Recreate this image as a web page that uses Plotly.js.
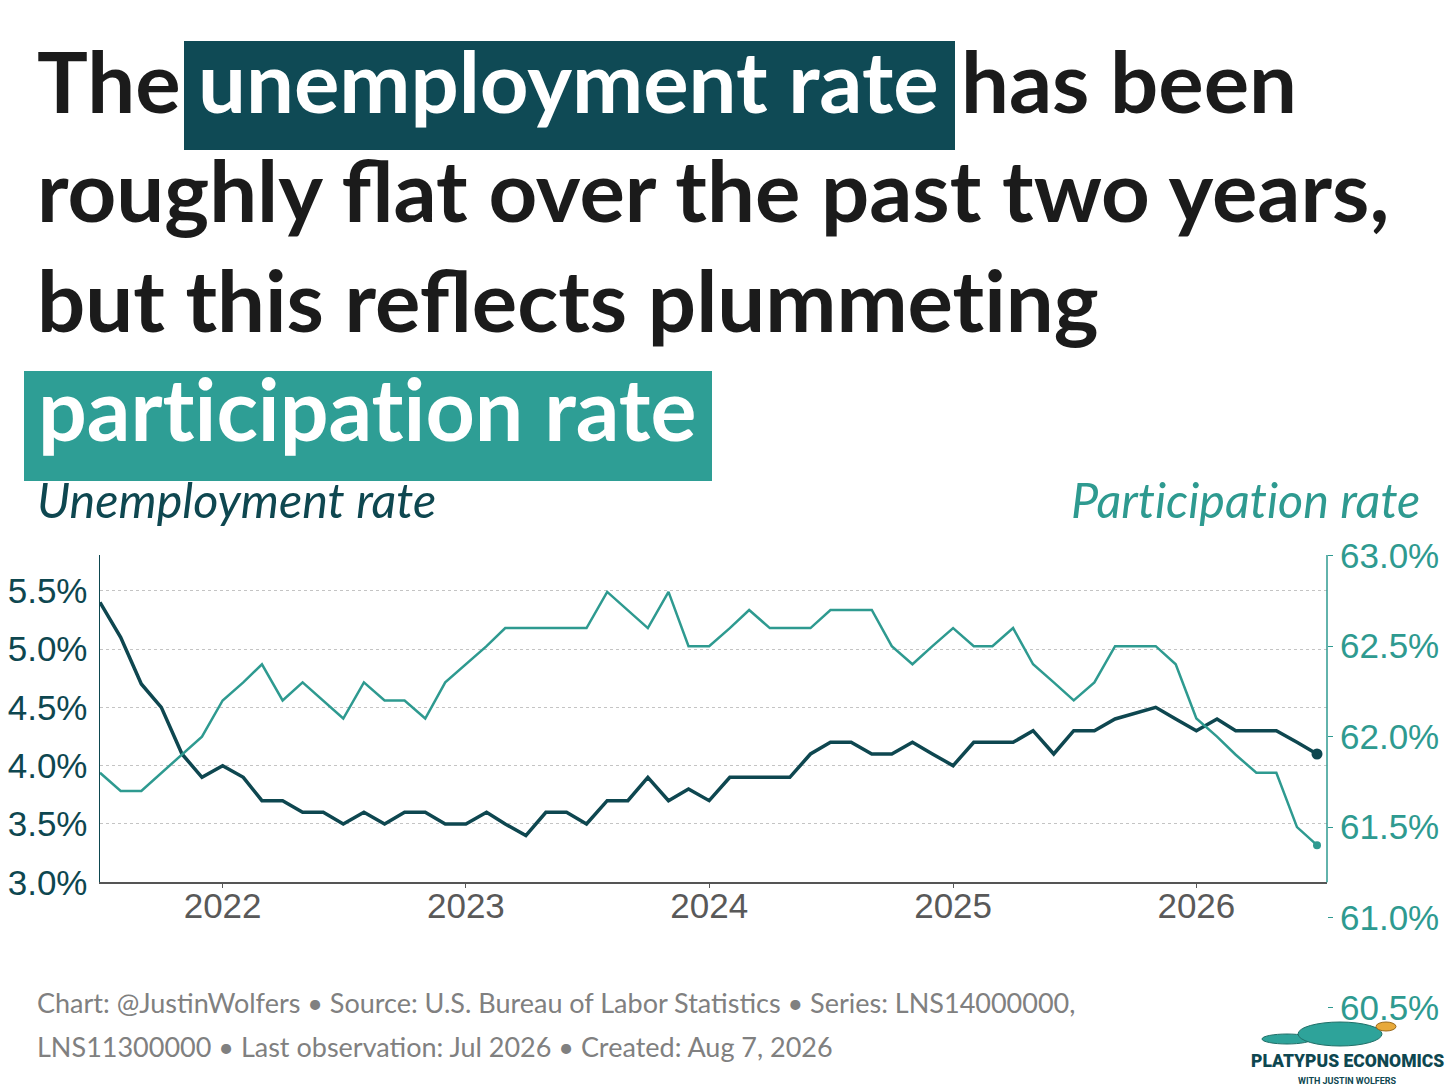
<!DOCTYPE html>
<html>
<head>
<meta charset="utf-8">
<script src="https://cdn.plot.ly/plotly-3.0.1.min.js"></script>
<style>
  html, body { margin: 0; padding: 0; overflow: hidden; background: #fff; }
</style>
</head>
<body>
<div id="chart"></div>
<script>
// monthly observations, Jul 2021 - Jul 2026 (Oct 2025 not published)
const months = [
  "2021-07", "2021-08", "2021-09", "2021-10", "2021-11", "2021-12",
  "2022-01", "2022-02", "2022-03", "2022-04", "2022-05", "2022-06",
  "2022-07", "2022-08", "2022-09", "2022-10", "2022-11", "2022-12",
  "2023-01", "2023-02", "2023-03", "2023-04", "2023-05", "2023-06",
  "2023-07", "2023-08", "2023-09", "2023-10", "2023-11", "2023-12",
  "2024-01", "2024-02", "2024-03", "2024-04", "2024-05", "2024-06",
  "2024-07", "2024-08", "2024-09", "2024-10", "2024-11", "2024-12",
  "2025-01", "2025-02", "2025-03", "2025-04", "2025-05", "2025-06",
  "2025-07", "2025-08", "2025-09", "2025-10", "2025-11", "2025-12",
  "2026-01", "2026-02", "2026-03", "2026-04", "2026-05", "2026-06",
  "2026-07",
];

// unemployment rate, % (LNS14000000)
const unemployment = [
  5.4, 5.1, 4.7, 4.5, 4.1, 3.9,
  4.0, 3.9, 3.7, 3.7, 3.6, 3.6, 3.5, 3.6, 3.5, 3.6, 3.6, 3.5,
  3.5, 3.6, 3.5, 3.4, 3.6, 3.6, 3.5, 3.7, 3.7, 3.9, 3.7, 3.8,
  3.7, 3.9, 3.9, 3.9, 3.9, 4.1, 4.2, 4.2, 4.1, 4.1, 4.2, 4.1,
  4.0, 4.2, 4.2, 4.2, 4.3, 4.1, 4.3, 4.3, 4.4, null, 4.5, 4.4,
  4.3, 4.4, 4.3, 4.3, 4.3, 4.2, 4.1,
];

// labor force participation rate, % (LNS11300000)
const participation = [
  61.8, 61.7, 61.7, 61.8, 61.9, 62.0,
  62.2, 62.3, 62.4, 62.2, 62.3, 62.2, 62.1, 62.3, 62.2, 62.2, 62.1, 62.3,
  62.4, 62.5, 62.6, 62.6, 62.6, 62.6, 62.6, 62.8, 62.7, 62.6, 62.8, 62.5,
  62.5, 62.6, 62.7, 62.6, 62.6, 62.6, 62.7, 62.7, 62.7, 62.5, 62.4, 62.5,
  62.6, 62.5, 62.5, 62.6, 62.4, 62.3, 62.2, 62.3, 62.5, null, 62.5, 62.4,
  62.1, 62.0, 61.9, 61.8, 61.8, 61.5, 61.4,
];

const urTicks = [3.0, 3.5, 4.0, 4.5, 5.0, 5.5];
const lfprTicks = [60.0, 60.5, 61.0, 61.5, 62.0, 62.5, 63.0];

const colors = {
  dark: "#0e4750",
  teal: "#2e9a90",
  boxDark: "#0f4a55",
  boxTeal: "#2e9e95",
  ink: "#1b1b1b",
  grey: "#595959",
  foot: "#808080",
};

// page geometry (plot div is a bit taller than the window, bottom is cut off)
const W = 1456, H = 1110;
const M = { l: 100, r: 129, t: 555, b: 0 };
function px(x) { return (x - M.l) / (W - M.l - M.r); }
function py(y) { return (H - M.b - y) / (H - M.t - M.b); }

function label(text, x, y, size, color, extra) {
  let a = {
    text: text,
    xref: "paper", yref: "paper",
    x: px(x), y: py(y),
    xanchor: "left", yanchor: "middle",
    showarrow: false,
    borderpad: 0,
    font: { family: "Lato, 'Open Sans', sans-serif", size: size, color: color },
  };
  return Object.assign(a, extra || {});
}

// keep "t" and "i" apart (no Lato ti ligature in the original)
function noTi(s) { return s.replace(/ti/g, "t\u200Ci"); }

const titleFont = 85;

let annotations = [
  label("The", 36, 80, titleFont, colors.ink),
  label("unemployment rate", 197, 80, titleFont, "#ffffff"),
  label("has been", 960, 80, titleFont, colors.ink),
  label("roughly flat over the past two years,", 36, 189, titleFont, colors.ink),
  label(noTi("but this reflects plummeting"), 36, 299, titleFont, colors.ink),
  label(noTi("participation rate"), 37, 407, titleFont + 1, "#ffffff"),
  label("Unemployment rate", 36, 499, 48.5, colors.dark),
  label(noTi("Participation rate"), 1421, 499, 48.5, colors.teal, { xanchor: "right" }),
  label("Chart: @JustinWolfers \u2022 Source: U.S. Bureau of Labor Statistics \u2022 Series: LNS14000000,", 36, 1002, 27, colors.foot),
  label("LNS11300000 \u2022 Last observation: Jul 2026 \u2022 Created: Aug 7, 2026", 36, 1046, 27, colors.foot),
  label("PLATYPUS ECONOMICS", 1347, 1061, 17.5, colors.dark, { xanchor: "center" }),
  label("WITH JUSTIN WOLFERS", 1347, 1081, 9, colors.dark, { xanchor: "center" }),
];
for (let i = 0; i < 6; i++) annotations[i].font.weight = 700;
annotations[6].font.style = "italic";
annotations[7].font.style = "italic";
annotations[10].font.family = "Roboto, 'DejaVu Sans', sans-serif";
annotations[10].font.weight = 900;
annotations[11].font.family = "Roboto, 'DejaVu Sans', sans-serif";
annotations[11].font.weight = 700;

let shapes = [
  // highlight boxes behind the title words
  { type: "rect", xref: "paper", yref: "paper", x0: px(184), x1: px(955), y0: py(150), y1: py(41),
    fillcolor: colors.boxDark, line: { width: 0 } },
  { type: "rect", xref: "paper", yref: "paper", x0: px(24), x1: px(712), y0: py(481), y1: py(371),
    fillcolor: colors.boxTeal, line: { width: 0 } },
  // right axis line, only as tall as the left one
  { type: "line", xref: "paper", yref: "paper", x0: 1, x1: 1, y0: py(882.3), y1: 1,
    line: { color: colors.teal, width: 1.5 } },
  // little platypus
  { type: "circle", xref: "paper", yref: "paper", x0: px(1262), x1: px(1312), y0: py(1044), y1: py(1034),
    fillcolor: "#2ea39a", line: { color: "#1f6f68", width: 1 } },
  { type: "circle", xref: "paper", yref: "paper", x0: px(1298), x1: px(1382), y0: py(1046), y1: py(1022),
    fillcolor: "#2ea39a", line: { color: "#1f6f68", width: 1 } },
  { type: "circle", xref: "paper", yref: "paper", x0: px(1376), x1: px(1396), y0: py(1031), y1: py(1022),
    fillcolor: "#e8a93a", line: { color: "#9a6a1c", width: 1 } },
];

let traceUR = {
  type: "scatter", mode: "lines",
  x: months, y: unemployment,
  xaxis: "x", yaxis: "y",
  connectgaps: true,
  line: { color: colors.dark, width: 3.5 },
  name: "Unemployment rate",
};
let traceLFPR = {
  type: "scatter", mode: "lines",
  x: months, y: participation,
  xaxis: "x", yaxis: "y2",
  connectgaps: true,
  line: { color: colors.teal, width: 2.5 },
  name: "Participation rate",
};
let last = months.length - 1;
let dotUR = {
  type: "scatter", mode: "markers",
  x: [months[last]], y: [unemployment[last]],
  xaxis: "x", yaxis: "y",
  marker: { color: colors.dark, size: 11 },
};
let dotLFPR = {
  type: "scatter", mode: "markers",
  x: [months[last]], y: [participation[last]],
  xaxis: "x", yaxis: "y2",
  marker: { color: colors.teal, size: 8 },
};

let tickFont = { family: "'Liberation Sans', Arial, sans-serif", size: 35 };
let pct = (v) => v.toFixed(1) + "%";

let layout = {
  width: W, height: H,
  margin: M,
  paper_bgcolor: "#ffffff",
  plot_bgcolor: "rgba(0,0,0,0)",
  showlegend: false,
  xaxis: {
    type: "date",
    domain: [0, 1],
    anchor: "y",
    range: ["2021-07-01", "2026-07-16"],
    tick0: "2022-01-01", dtick: "M12", tickformat: "%Y",
    ticks: "outside", ticklen: 4, tickcolor: colors.grey,
    ticklabelstandoff: -12,
    showline: true, linecolor: "#555555", linewidth: 1.5,
    showgrid: false, zeroline: false,
    tickfont: Object.assign({ color: colors.grey }, tickFont),
  },
  yaxis: {
    domain: [py(882.3), 1],
    anchor: "x",
    range: [3.0, 5.806],
    tickmode: "array", tickvals: urTicks, ticktext: urTicks.map(pct),
    ticks: "", ticklabelstandoff: 4,
    showline: true, linecolor: colors.dark, linewidth: 1.5,
    showgrid: true, gridcolor: "#c4c4c4", griddash: "dot", gridwidth: 1,
    zeroline: false,
    tickfont: Object.assign({ color: colors.dark }, tickFont),
  },
  yaxis2: {
    domain: [0, 1],
    anchor: "free", position: 1, side: "right",
    range: [59.936, 63.004],
    tickmode: "array", tickvals: lfprTicks, ticktext: lfprTicks.map(pct),
    ticks: "outside", ticklen: 5, tickcolor: colors.teal,
    showline: false, showgrid: false, zeroline: false,
    tickfont: Object.assign({ color: colors.teal }, tickFont),
  },
  shapes: shapes,
  annotations: annotations,
};

let config = { staticPlot: true, displayModeBar: false };

Plotly.newPlot("chart", [traceLFPR, traceUR, dotLFPR, dotUR], layout, config);
</script>
</body>
</html>
